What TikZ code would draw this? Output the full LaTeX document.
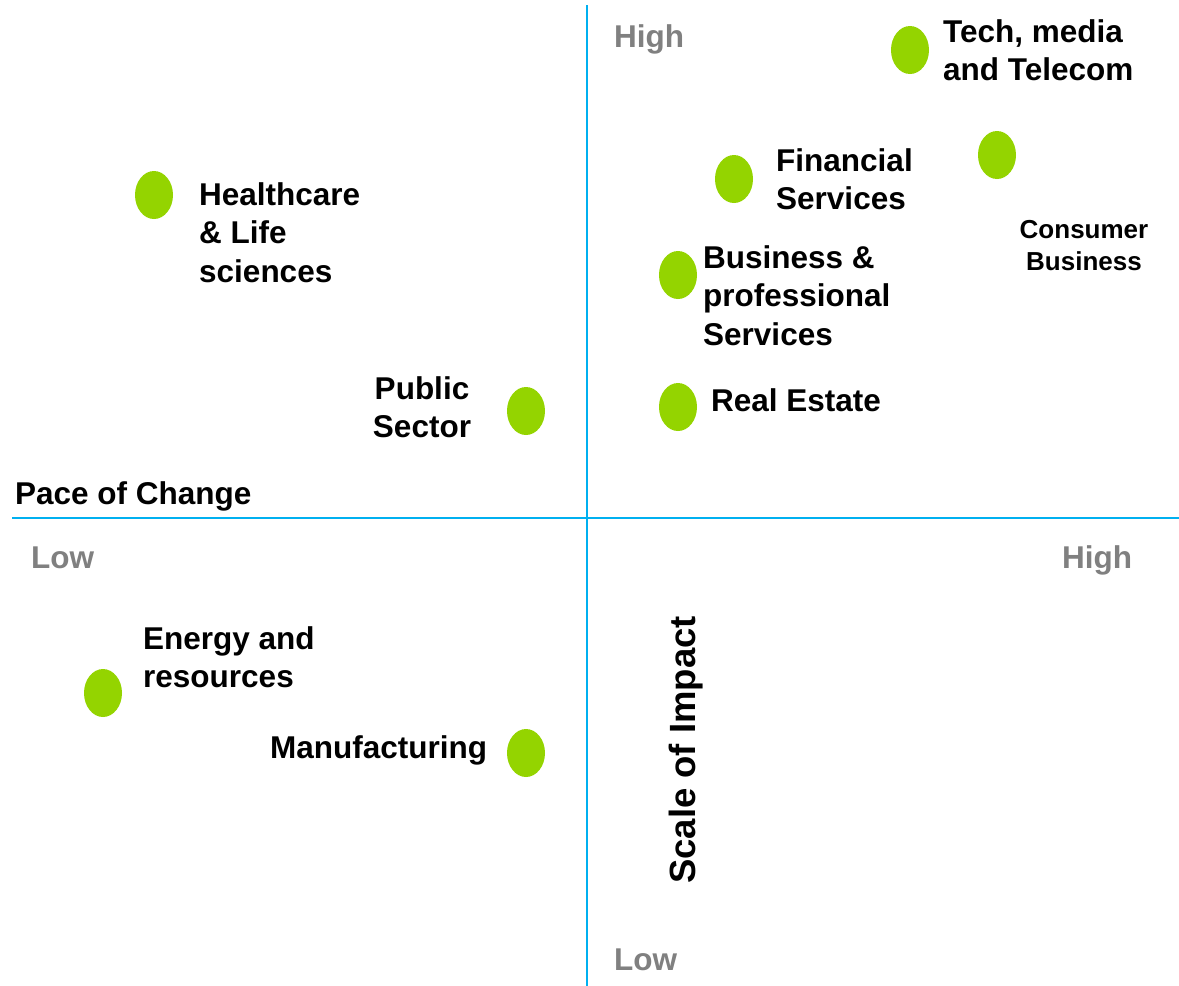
\documentclass[tikz,border=0pt]{standalone}
\usepackage{fontspec}
\setmainfont{Liberation Sans}
\usetikzlibrary{shapes.geometric}
\definecolor{dotgreen}{RGB}{148,212,0}
\definecolor{axisblue}{RGB}{0,176,240}
\definecolor{lvlgrey}{RGB}{128,128,128}
\begin{document}
\begin{tikzpicture}[x=1pt,y=-1pt,
  dot/.style={ellipse,fill=dotgreen,draw=none,minimum width=38pt,minimum height=48pt,inner sep=0pt},
  axis/.style={draw=axisblue,line width=2pt},
  lbl/.style={font=\fontsize{31.5}{38.5}\selectfont\bfseries,inner sep=0pt,align=left,anchor=base west},
  small/.style={font=\fontsize{26}{32}\selectfont\bfseries,inner sep=0pt,align=center,anchor=base},
  lvl/.style={font=\fontsize{31.5}{38.5}\selectfont\bfseries,text=lvlgrey,inner sep=0pt,anchor=base west}]
\useasboundingbox (0,0) rectangle (1179,986);
% axes
\coordinate (vtop) at (587,5);
\coordinate (vbot) at (587,986);
\coordinate (hl) at (12,518);
\coordinate (hr) at (1179,518);
\draw[axis] (vtop) -- (vbot);
\draw[axis] (hl) -- (hr);
% dots
\node[dot] (tech) at (910,50) {};
\node[dot] (cons) at (997,155) {};
\node[dot] (fin) at (734,179) {};
\node[dot] (bus) at (678,275) {};
\node[dot] (real) at (678,407) {};
\node[dot] (pub) at (526,411) {};
\node[dot] (health) at (154,195) {};
\node[dot] (energy) at (103,693) {};
\node[dot] (manu) at (526,753) {};
% labels (base anchor = baseline of the last line)
\node[lbl] (techl) at (943,80.5) {Tech, media\\and Telecom};
\node[lbl] (finl) at (776,209.5) {Financial\\Services};
\node[small] (consl) at (1084,270) {Consumer\\Business};
\node[lbl] (healthl) at (199,282) {Healthcare\\\& Life\\sciences};
\node[lbl] (busl) at (703,345) {Business \&\\professional\\Services};
\node[lbl] (reall) at (711,411) {Real Estate};
\node[lbl,align=center,anchor=base] (publ) at (422,437.5) {Public\\Sector};
\node[lbl] (pace) at (15,504) {Pace of Change};
\node[lbl] (energyl) at (143,687.5) {Energy and\\resources};
\node[lbl] (manul) at (270,758) {Manufacturing};
\node[font=\fontsize{36.5}{44}\selectfont\bfseries,inner sep=0pt,rotate=90] (scale) at (686,750) {Scale of Impact};
% level markers
\node[lvl] (hightop) at (614,47) {High};
\node[lvl] (lowbot) at (614,970) {Low};
\node[lvl] (lowleft) at (31,568) {Low};
\node[lvl] (highright) at (1062,568) {High};
\end{tikzpicture}
\end{document}
